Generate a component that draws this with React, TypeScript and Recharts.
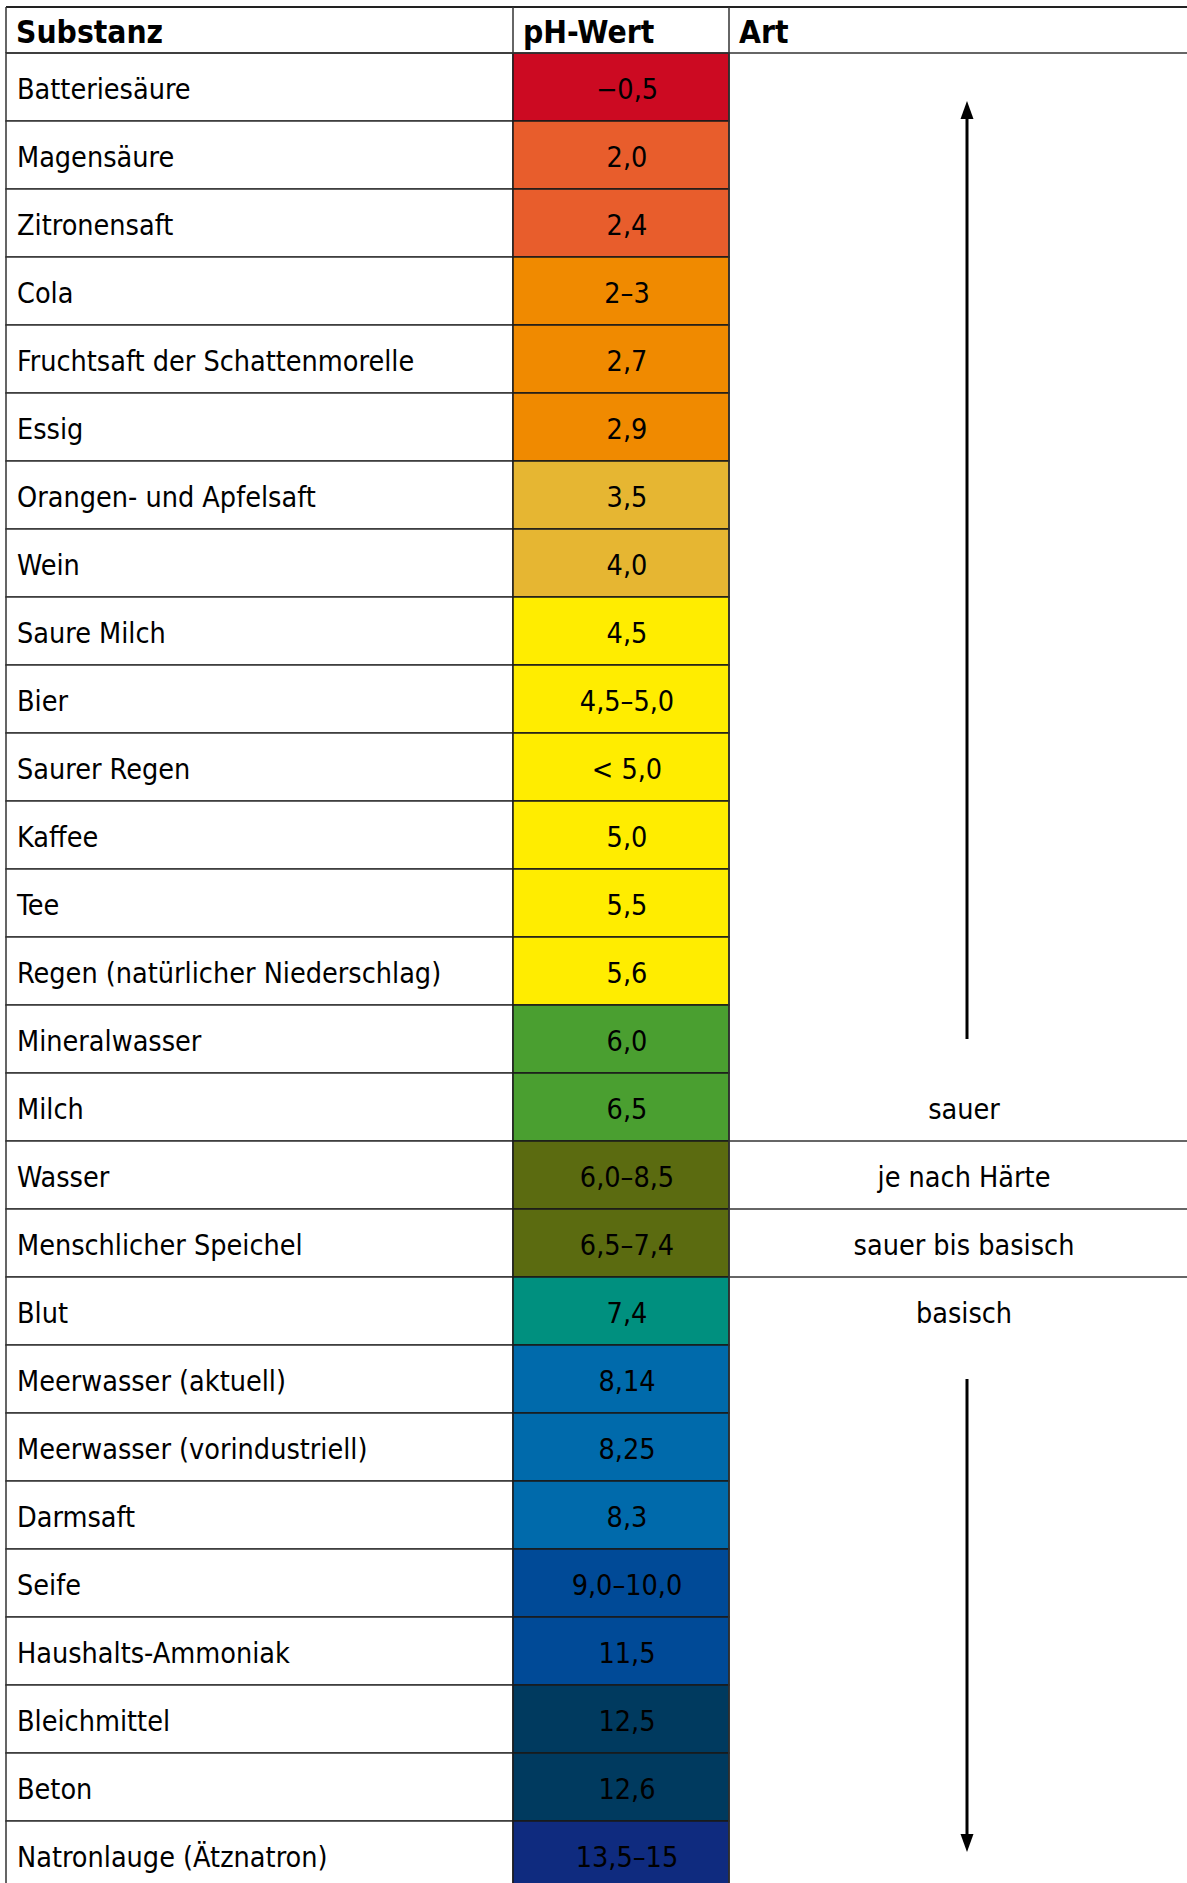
import { BarChart, Bar, XAxis, YAxis, Cell, LabelList, ReferenceLine } from 'recharts';

const SUBSTANCES = [
  'Batteriesäure', 'Magensäure', 'Zitronensaft', 'Cola', 'Fruchtsaft der Schattenmorelle', 'Essig',
  'Orangen- und Apfelsaft', 'Wein', 'Saure Milch', 'Bier', 'Saurer Regen', 'Kaffee', 'Tee',
  'Regen (natürlicher Niederschlag)', 'Mineralwasser', 'Milch', 'Wasser', 'Menschlicher Speichel',
  'Blut', 'Meerwasser (aktuell)', 'Meerwasser (vorindustriell)', 'Darmsaft', 'Seife',
  'Haushalts-Ammoniak', 'Bleichmittel', 'Beton', 'Natronlauge (Ätznatron)',
];

const PH_VALUES = [
  '−0,5', '2,0', '2,4', '2–3', '2,7', '2,9', '3,5', '4,0', '4,5', '4,5–5,0', '< 5,0', '5,0', '5,5',
  '5,6', '6,0', '6,5', '6,0–8,5', '6,5–7,4', '7,4', '8,14', '8,25', '8,3', '9,0–10,0', '11,5',
  '12,5', '12,6', '13,5–15',
];

const PH_COLORS = [
  '#cc0a22', '#e85d2c', '#e85d2c', '#f08a00', '#f08a00', '#f08a00', '#e6b632', '#e6b632',
  '#ffed00', '#ffed00', '#ffed00', '#ffed00', '#ffed00', '#ffed00', '#4a9f30', '#4a9f30',
  '#5b6b10', '#5b6b10', '#00907f', '#006aab', '#006aab', '#006aab', '#004a97', '#004a97',
  '#003a5f', '#003a5f', '#0f2b7f',
];

const ART_LABELS = [
  '', '', '', '', '', '', '', '', '', '', '', '', '', '', '', 'sauer', 'je nach Härte',
  'sauer bis basisch', 'basisch', '', '', '', '', '', '', '', '',
];

const HEADERS = ['Substanz', 'pH-Wert', 'Art'];

// arrows in the "Art" column: from row -> to row
const ARROWS = [
  { from: 'Mineralwasser', to: 'Batteriesäure' },
  { from: 'Meerwasser (aktuell)', to: 'Natronlauge (Ätznatron)' },
];

// layout
const W = 1187;
const ROW_H = 68;
const HEAD_TOP = 7;
const HEAD_H = 46;
const LEFT = 6;
const COL_W = [507, 216, W - LEFT - 507 - 216];
const COL_START = [0, COL_W[0], COL_W[0] + COL_W[1]];
const ARROW_X = 961;
const FONT = "'DejaVu Sans Condensed', 'DejaVu Sans', sans-serif";
const LINE = '#333';

const rows = SUBSTANCES.map((name, i) => ({
  name,
  ph: PH_VALUES[i],
  art: ART_LABELS[i],
  artBorder: !!(ART_LABELS[i] && ART_LABELS[i + 1]),
}));

const chartH = HEAD_TOP + HEAD_H + rows.length * ROW_H;

function HeaderTick(props: any) {
  const { x, payload } = props;
  const idx = COL_START.indexOf(payload.value);
  const bottom = HEAD_TOP + HEAD_H;
  return (
    <g>
      {idx === 0 && (
        <>
          <line x1={x} y1={HEAD_TOP} x2={W} y2={HEAD_TOP} stroke="#222" strokeWidth={2} />
          <line x1={x} y1={bottom} x2={W} y2={bottom} stroke={LINE} strokeWidth={1.5} />
        </>
      )}
      <line x1={x} y1={HEAD_TOP} x2={x} y2={bottom} stroke={LINE} strokeWidth={1.5} />
      <text x={x + 10} y={HEAD_TOP + HEAD_H / 2 + 13} fontFamily={FONT} fontWeight="bold" fontSize={31.5} fill="#000">
        {HEADERS[idx]}
      </text>
    </g>
  );
}

function NameLabel(props: any) {
  const { x, y, height, value } = props;
  return (
    <text x={x + 11} y={y + height / 2 + 12} fontFamily={FONT} fontSize={28.5} fill="#000">
      {value}
    </text>
  );
}

function PhLabel(props: any) {
  const { x, y, width, height, value } = props;
  return (
    <text x={x + width / 2 + 6} y={y + height / 2 + 12} textAnchor="middle" fontFamily={FONT} fontSize={28.5} fill="#000">
      {value}
    </text>
  );
}

function ArtLabel(props: any) {
  const { y, height, value } = props;
  if (!value) return null;
  return (
    <text x={ARROW_X + LEFT - 3} y={y + height / 2 + 12} textAnchor="middle" fontFamily={FONT} fontSize={28.5} fill="#000">
      {value}
    </text>
  );
}

function ArtCell(props: any) {
  const { x, y, height, width, payload } = props;
  return (
    <g>
      <line x1={x} y1={y} x2={x} y2={y + height} stroke={LINE} strokeWidth={1.5} />
      {payload.artBorder && (
        <line x1={x} y1={y + height} x2={x + width} y2={y + height} stroke={LINE} strokeWidth={1.5} />
      )}
    </g>
  );
}

function Arrow(props: any) {
  const { x1, y1, x2, y2 } = props;
  const up = y2 < y1;
  const tip = up ? y2 + 14 : y2 - 3;
  const dir = up ? 1 : -1;
  return (
    <g>
      <line x1={x1} y1={y1} x2={x2} y2={tip + dir * 14} stroke="#000" strokeWidth={3} />
      <polygon
        points={`${x2},${tip} ${x2 - 6.5},${tip + dir * 18} ${x2 + 6.5},${tip + dir * 18}`}
        fill="#000"
      />
    </g>
  );
}

export default function App() {
  return (
    <div style={{ position: 'absolute', left: 0, top: 0, width: W, height: 1883, overflow: 'hidden', background: '#fff' }}>
      <BarChart
        width={W}
        height={chartH}
        data={rows}
        layout="vertical"
        barCategoryGap={0}
        barGap={0}
        margin={{ top: HEAD_TOP, right: 0, bottom: 0, left: LEFT }}
      >
        <XAxis
          type="number"
          orientation="top"
          domain={[0, COL_W[0] + COL_W[1] + COL_W[2]]}
          ticks={COL_START}
          interval={0}
          height={HEAD_H}
          axisLine={false}
          tickLine={false}
          tick={<HeaderTick />}
        />
        <YAxis type="category" dataKey="name" hide />
        <Bar dataKey={() => COL_W[0]} stackId="row" fill="#fff" stroke={LINE} strokeWidth={1.5} isAnimationActive={false}>
          <LabelList dataKey="name" content={<NameLabel />} />
        </Bar>
        <Bar dataKey={() => COL_W[1]} stackId="row" stroke="#1a1a1a" strokeWidth={1.5} isAnimationActive={false}>
          {rows.map((r, i) => (
            <Cell key={r.name} fill={PH_COLORS[i]} />
          ))}
          <LabelList dataKey="ph" content={<PhLabel />} />
        </Bar>
        <Bar dataKey={() => COL_W[2]} stackId="row" shape={<ArtCell />} isAnimationActive={false}>
          <LabelList dataKey="art" content={<ArtLabel />} />
        </Bar>
        {ARROWS.map((a) => (
          <ReferenceLine
            key={a.from}
            segment={[{ x: ARROW_X, y: a.from }, { x: ARROW_X, y: a.to }]}
            shape={<Arrow />}
          />
        ))}
      </BarChart>
    </div>
  );
}
